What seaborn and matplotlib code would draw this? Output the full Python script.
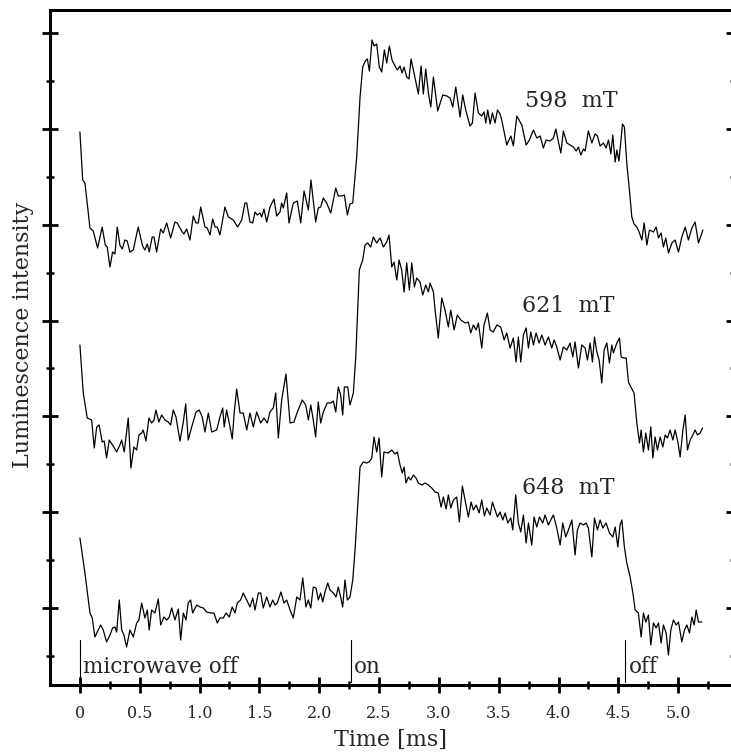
import matplotlib
matplotlib.use("Agg")
import matplotlib.pyplot as plt
import seaborn as sns
import numpy as np
import pandas as pd

# ---------------- data (time in ms, luminescence intensity in arbitrary units) ----------------
t598 = [0.000, 0.023, 0.042, 0.084, 0.111, 0.148, 0.186, 0.212, 0.228, 0.251, 0.273, 0.293, 0.312, 0.334,
        0.354, 0.376, 0.395, 0.418, 0.446, 0.487, 0.524, 0.543, 0.563, 0.579, 0.604, 0.619, 0.641, 0.675,
        0.696, 0.725, 0.758, 0.794, 0.813, 0.850, 0.869, 0.892, 0.920, 0.947, 0.970, 0.989, 1.009, 1.045,
        1.064, 1.087, 1.109, 1.129, 1.148, 1.170, 1.212, 1.240, 1.282, 1.318, 1.352, 1.379, 1.394, 1.421,
        1.444, 1.463, 1.482, 1.505, 1.519, 1.538, 1.561, 1.588, 1.622, 1.644, 1.672, 1.686, 1.700, 1.728,
        1.747, 1.783, 1.817, 1.845, 1.873, 1.909, 1.931, 1.970, 1.992, 2.012, 2.034, 2.062, 2.096, 2.138,
        2.159, 2.188, 2.210, 2.235, 2.257, 2.280, 2.313, 2.341, 2.363, 2.385, 2.402, 2.419, 2.441, 2.458,
        2.480, 2.502, 2.522, 2.544, 2.564, 2.586, 2.608, 2.633, 2.653, 2.675, 2.692, 2.709, 2.731, 2.750,
        2.767, 2.792, 2.828, 2.851, 2.870, 2.890, 2.912, 2.932, 2.954, 2.990, 3.032, 3.066, 3.093, 3.116,
        3.141, 3.177, 3.199, 3.224, 3.260, 3.280, 3.302, 3.330, 3.358, 3.377, 3.392, 3.408, 3.428, 3.447,
        3.469, 3.489, 3.511, 3.525, 3.567, 3.601, 3.622, 3.651, 3.693, 3.729, 3.756, 3.790, 3.818, 3.846,
        3.873, 3.896, 3.929, 3.957, 3.977, 3.999, 4.019, 4.040, 4.069, 4.096, 4.124, 4.147, 4.166, 4.186,
        4.208, 4.222, 4.249, 4.278, 4.305, 4.325, 4.347, 4.375, 4.397, 4.417, 4.437, 4.453, 4.473, 4.487,
        4.504, 4.520, 4.534, 4.550, 4.570, 4.592, 4.612, 4.631, 4.654, 4.673, 4.696, 4.715, 4.738, 4.759,
        4.793, 4.815, 4.835, 4.857, 4.876, 4.896, 4.918, 4.947, 4.974, 5.002, 5.030, 5.058, 5.085, 5.114,
        5.141, 5.169, 5.206]
i598 = [553, 505, 502, 457, 454, 437, 458, 440, 438, 418, 433, 431, 458, 440,
        436, 445, 444, 433, 435, 458, 439, 435, 441, 433, 448, 448, 433, 456,
        452, 462, 447, 463, 462, 454, 451, 456, 445, 469, 462, 462, 478, 458,
        457, 450, 466, 458, 458, 450, 478, 468, 465, 458, 465, 482, 482, 463,
        462, 473, 470, 472, 468, 476, 463, 478, 486, 469, 473, 482, 477, 492,
        462, 482, 484, 462, 494, 475, 505, 463, 477, 478, 487, 482, 472, 497,
        489, 489, 490, 470, 481, 482, 528, 588, 618, 624, 626, 614, 645, 639,
        641, 618, 613, 635, 622, 639, 625, 619, 615, 619, 612, 618, 608, 606,
        626, 612, 591, 619, 591, 616, 592, 578, 608, 574, 590, 589, 587, 578,
        598, 568, 590, 575, 559, 562, 592, 572, 569, 573, 562, 575, 561, 572,
        562, 575, 571, 565, 540, 549, 539, 569, 560, 540, 545, 555, 547, 549,
        537, 545, 544, 547, 556, 543, 532, 554, 542, 540, 538, 534, 538, 530,
        536, 534, 554, 542, 551, 549, 539, 542, 537, 545, 531, 550, 523, 535,
        524, 543, 561, 558, 522, 495, 468, 461, 458, 453, 445, 462, 440, 455,
        453, 458, 447, 452, 438, 447, 432, 442, 445, 433, 448, 458, 445, 457,
        463, 442, 455]

t621 = [0.000, 0.028, 0.061, 0.098, 0.120, 0.140, 0.161, 0.186, 0.203, 0.223, 0.245, 0.278, 0.307, 0.334,
        0.349, 0.370, 0.404, 0.426, 0.451, 0.474, 0.493, 0.516, 0.529, 0.552, 0.577, 0.599, 0.619, 0.635,
        0.660, 0.683, 0.711, 0.738, 0.758, 0.780, 0.803, 0.836, 0.864, 0.884, 0.905, 0.934, 0.970, 0.997,
        1.022, 1.045, 1.073, 1.101, 1.143, 1.170, 1.193, 1.206, 1.226, 1.248, 1.273, 1.290, 1.310, 1.338,
        1.365, 1.394, 1.421, 1.449, 1.477, 1.511, 1.538, 1.566, 1.588, 1.616, 1.636, 1.658, 1.686, 1.722,
        1.756, 1.789, 1.817, 1.858, 1.887, 1.909, 1.929, 1.950, 1.970, 1.992, 2.012, 2.034, 2.067, 2.098,
        2.118, 2.138, 2.159, 2.179, 2.196, 2.210, 2.238, 2.257, 2.285, 2.305, 2.335, 2.363, 2.383, 2.405,
        2.430, 2.452, 2.480, 2.508, 2.536, 2.564, 2.583, 2.606, 2.625, 2.648, 2.667, 2.689, 2.709, 2.731,
        2.753, 2.773, 2.795, 2.815, 2.842, 2.865, 2.890, 2.912, 2.926, 2.954, 2.968, 2.995, 3.024, 3.051,
        3.079, 3.099, 3.127, 3.154, 3.183, 3.219, 3.246, 3.266, 3.288, 3.311, 3.330, 3.358, 3.377, 3.405,
        3.428, 3.455, 3.484, 3.517, 3.545, 3.567, 3.595, 3.622, 3.645, 3.664, 3.684, 3.706, 3.729, 3.748,
        3.768, 3.790, 3.812, 3.837, 3.860, 3.887, 3.915, 3.943, 3.963, 3.985, 4.013, 4.040, 4.069, 4.096,
        4.119, 4.138, 4.166, 4.194, 4.222, 4.241, 4.264, 4.283, 4.300, 4.320, 4.339, 4.361, 4.381, 4.403,
        4.425, 4.445, 4.458, 4.487, 4.509, 4.523, 4.542, 4.565, 4.584, 4.604, 4.631, 4.654, 4.676, 4.690,
        4.709, 4.729, 4.751, 4.771, 4.788, 4.807, 4.826, 4.849, 4.871, 4.891, 4.910, 4.932, 4.955, 4.974,
        4.997, 5.016, 5.039, 5.058, 5.077, 5.100, 5.122, 5.141, 5.161, 5.183, 5.203]
i621 = [340, 292, 267, 265, 237, 258, 260, 243, 244, 227, 245, 239, 233, 240,
        245, 233, 267, 217, 238, 235, 250, 252, 255, 244, 267, 262, 265, 275,
        263, 270, 265, 263, 260, 275, 268, 244, 263, 281, 245, 258, 273, 275,
        268, 253, 272, 253, 255, 268, 277, 258, 275, 262, 246, 273, 296, 272,
        272, 255, 272, 258, 273, 262, 267, 262, 273, 277, 292, 247, 285, 311,
        262, 263, 273, 285, 280, 265, 280, 265, 248, 283, 262, 273, 282, 282,
        284, 273, 298, 290, 270, 298, 298, 280, 292, 328, 415, 425, 440, 442,
        438, 448, 442, 447, 438, 443, 450, 418, 423, 405, 425, 415, 393, 422,
        395, 422, 398, 407, 403, 390, 400, 393, 402, 393, 375, 347, 387, 375,
        358, 375, 355, 370, 365, 362, 363, 352, 360, 355, 362, 337, 360, 372,
        355, 353, 360, 358, 345, 352, 337, 347, 323, 348, 323, 350, 357, 337,
        353, 340, 352, 342, 350, 340, 348, 337, 345, 338, 325, 338, 335, 342,
        328, 343, 317, 340, 337, 325, 342, 323, 348, 333, 325, 302, 335, 342,
        322, 340, 332, 342, 347, 328, 327, 327, 303, 298, 292, 262, 242, 255,
        233, 252, 235, 258, 227, 248, 235, 248, 238, 250, 247, 255, 245, 255,
        243, 228, 255, 270, 235, 245, 250, 255, 250, 252, 257]

t648 = [0.000, 0.042, 0.084, 0.103, 0.125, 0.145, 0.173, 0.195, 0.223, 0.251, 0.273, 0.293, 0.307, 0.329,
        0.349, 0.368, 0.390, 0.418, 0.446, 0.474, 0.493, 0.516, 0.543, 0.563, 0.579, 0.599, 0.627, 0.655,
        0.675, 0.702, 0.725, 0.747, 0.767, 0.794, 0.822, 0.842, 0.864, 0.886, 0.905, 0.925, 0.942, 0.976,
        1.003, 1.031, 1.059, 1.093, 1.120, 1.148, 1.170, 1.198, 1.221, 1.248, 1.273, 1.296, 1.315, 1.343,
        1.365, 1.394, 1.421, 1.444, 1.463, 1.491, 1.511, 1.532, 1.561, 1.588, 1.611, 1.630, 1.649, 1.680,
        1.705, 1.728, 1.756, 1.783, 1.812, 1.839, 1.862, 1.889, 1.909, 1.929, 1.950, 1.973, 1.992, 2.012,
        2.029, 2.048, 2.071, 2.090, 2.118, 2.140, 2.159, 2.179, 2.196, 2.215, 2.235, 2.257, 2.280, 2.299,
        2.318, 2.341, 2.368, 2.397, 2.416, 2.439, 2.458, 2.480, 2.500, 2.522, 2.541, 2.577, 2.606, 2.633,
        2.653, 2.675, 2.694, 2.709, 2.725, 2.745, 2.765, 2.786, 2.809, 2.828, 2.857, 2.884, 2.912, 2.940,
        2.968, 2.995, 3.018, 3.037, 3.060, 3.079, 3.099, 3.121, 3.149, 3.171, 3.196, 3.219, 3.246, 3.269,
        3.288, 3.311, 3.336, 3.358, 3.380, 3.400, 3.428, 3.447, 3.469, 3.489, 3.511, 3.534, 3.553, 3.576,
        3.601, 3.617, 3.642, 3.664, 3.684, 3.706, 3.729, 3.748, 3.776, 3.795, 3.818, 3.840, 3.868, 3.887,
        3.915, 3.935, 3.957, 3.985, 4.013, 4.035, 4.060, 4.082, 4.111, 4.138, 4.157, 4.180, 4.208, 4.230,
        4.249, 4.278, 4.300, 4.325, 4.347, 4.370, 4.397, 4.425, 4.453, 4.473, 4.495, 4.514, 4.529, 4.550,
        4.570, 4.598, 4.621, 4.640, 4.667, 4.690, 4.709, 4.729, 4.751, 4.771, 4.793, 4.815, 4.835, 4.857,
        4.876, 4.899, 4.918, 4.938, 4.960, 4.983, 5.002, 5.030, 5.052, 5.072, 5.094, 5.114, 5.133, 5.150,
        5.169, 5.197]
i648 = [147, 112, 72, 67, 48, 53, 60, 55, 43, 50, 57, 58, 53, 85,
        55, 50, 38, 55, 48, 62, 65, 82, 67, 75, 55, 75, 72, 86,
        60, 68, 65, 68, 77, 65, 76, 45, 72, 65, 82, 85, 72, 80,
        78, 77, 73, 72, 72, 62, 67, 67, 72, 68, 78, 72, 82, 85,
        92, 85, 78, 87, 75, 92, 92, 77, 88, 78, 85, 80, 82, 93,
        82, 85, 75, 67, 88, 85, 107, 78, 85, 77, 98, 97, 85, 92,
        83, 93, 102, 95, 92, 88, 98, 88, 78, 105, 85, 88, 105, 135,
        172, 218, 223, 222, 223, 227, 248, 233, 247, 208, 233, 232, 235, 231,
        233, 220, 212, 218, 202, 208, 205, 210, 207, 202, 200, 202, 200, 197,
        193, 192, 178, 188, 176, 190, 177, 185, 188, 163, 199, 185, 168, 183,
        175, 180, 172, 185, 169, 177, 170, 183, 175, 168, 173, 165, 172, 162,
        167, 155, 190, 162, 153, 170, 142, 162, 140, 168, 158, 168, 162, 170,
        160, 165, 170, 157, 140, 162, 148, 155, 165, 130, 155, 162, 160, 162,
        157, 128, 167, 155, 165, 157, 162, 152, 148, 158, 138, 160, 165, 138,
        122, 108, 92, 75, 72, 48, 72, 63, 70, 40, 62, 57, 62, 42,
        60, 52, 30, 55, 65, 60, 63, 43, 55, 60, 52, 68, 60, 75,
        63, 63]

field_labels = ["598  mT", "621  mT", "648  mT"]
label_time = [3.72, 3.693, 3.693]
label_intensity = [584, 379, 197]

event_times = [0.0, 2.262, 4.555]
event_labels = ["microwave off", "on", "off"]
event_label_times = [0.023, 2.29, 4.584]

xtick_values = [0, 0.5, 1.0, 1.5, 2.0, 2.5, 3.0, 3.5, 4.0, 4.5, 5.0]
xtick_labels = ["0", "0.5", "1.0", "1.5", "2.0", "2.5", "3.0", "3.5", "4.0", "4.5", "5.0"]

# ---------------- build long-form table ----------------
frames = []
for name, t, i in [("598", t598, i598), ("621", t621, i621), ("648", t648, i648)]:
    frames.append(pd.DataFrame({"time": t, "intensity": i, "field": name}))
df = pd.concat(frames, ignore_index=True)

# ---------------- styling ----------------
sns.set_style("white")
plt.rcParams["font.family"] = ["DejaVu Serif"]

W, H = 731, 753
fig = plt.figure(figsize=(W / 100, H / 100), dpi=100)
ax = fig.add_axes([50 / W, (H - 685) / H, (734 - 50) / W, (685 - 10) / H])

for name in ["598", "621", "648"]:
    sub = df[df["field"] == name]
    sns.lineplot(data=sub, x="time", y="intensity", ax=ax, color="black",
                 linewidth=0.9, estimator=None, sort=False, legend=False)

# event markers
for et, lab, lt in zip(event_times, event_labels, event_label_times):
    ax.plot([et, et], [3, 45], color="black", linewidth=0.8)
    ax.text(lt, 12, lab, fontsize=15.5, ha="left", va="baseline")

for lab, lt, li in zip(field_labels, label_time, label_intensity):
    ax.text(lt, li, lab, fontsize=16, ha="left", va="center")

ax.set_xlim(-0.25, 5.466)
ax.set_ylim(0, 675)

# ticks
ax.set_xticks(xtick_values)
ax.set_xticklabels(xtick_labels, fontsize=11.5)
ax.set_xticks(np.arange(0.25, 5.3, 0.5), minor=True)
ax.set_yticks(77 + 95.83 * np.arange(7))
ax.set_yticks(29.1 + 95.83 * np.arange(7), minor=True)
ax.set_yticklabels([])

ax.tick_params(axis="both", which="major", direction="inout", length=11.5, width=2.0,
               color="black", pad=9)
ax.tick_params(axis="both", which="minor", direction="inout", length=6, width=1.8, color="black")
ax.tick_params(axis="y", which="both", left=True, right=True, labelleft=False)
ax.tick_params(axis="x", which="both", bottom=True, top=False)

for side in ["left", "bottom", "top"]:
    ax.spines[side].set_linewidth(2.2)
    ax.spines[side].set_color("black")
ax.spines["right"].set_visible(False)

ax.set_xlabel("Time [ms]", fontsize=16)
ax.set_ylabel("Luminescence intensity", fontsize=16)
ax.xaxis.label.set_va("center")
ax.yaxis.label.set_va("center")
ax.xaxis.set_label_coords((390 - 50) / 684, (685 - 740) / 675)
ax.yaxis.set_label_coords((23 - 50) / 684, (685 - 334.5) / 675)

fig.savefig("out.png", dpi=100)
